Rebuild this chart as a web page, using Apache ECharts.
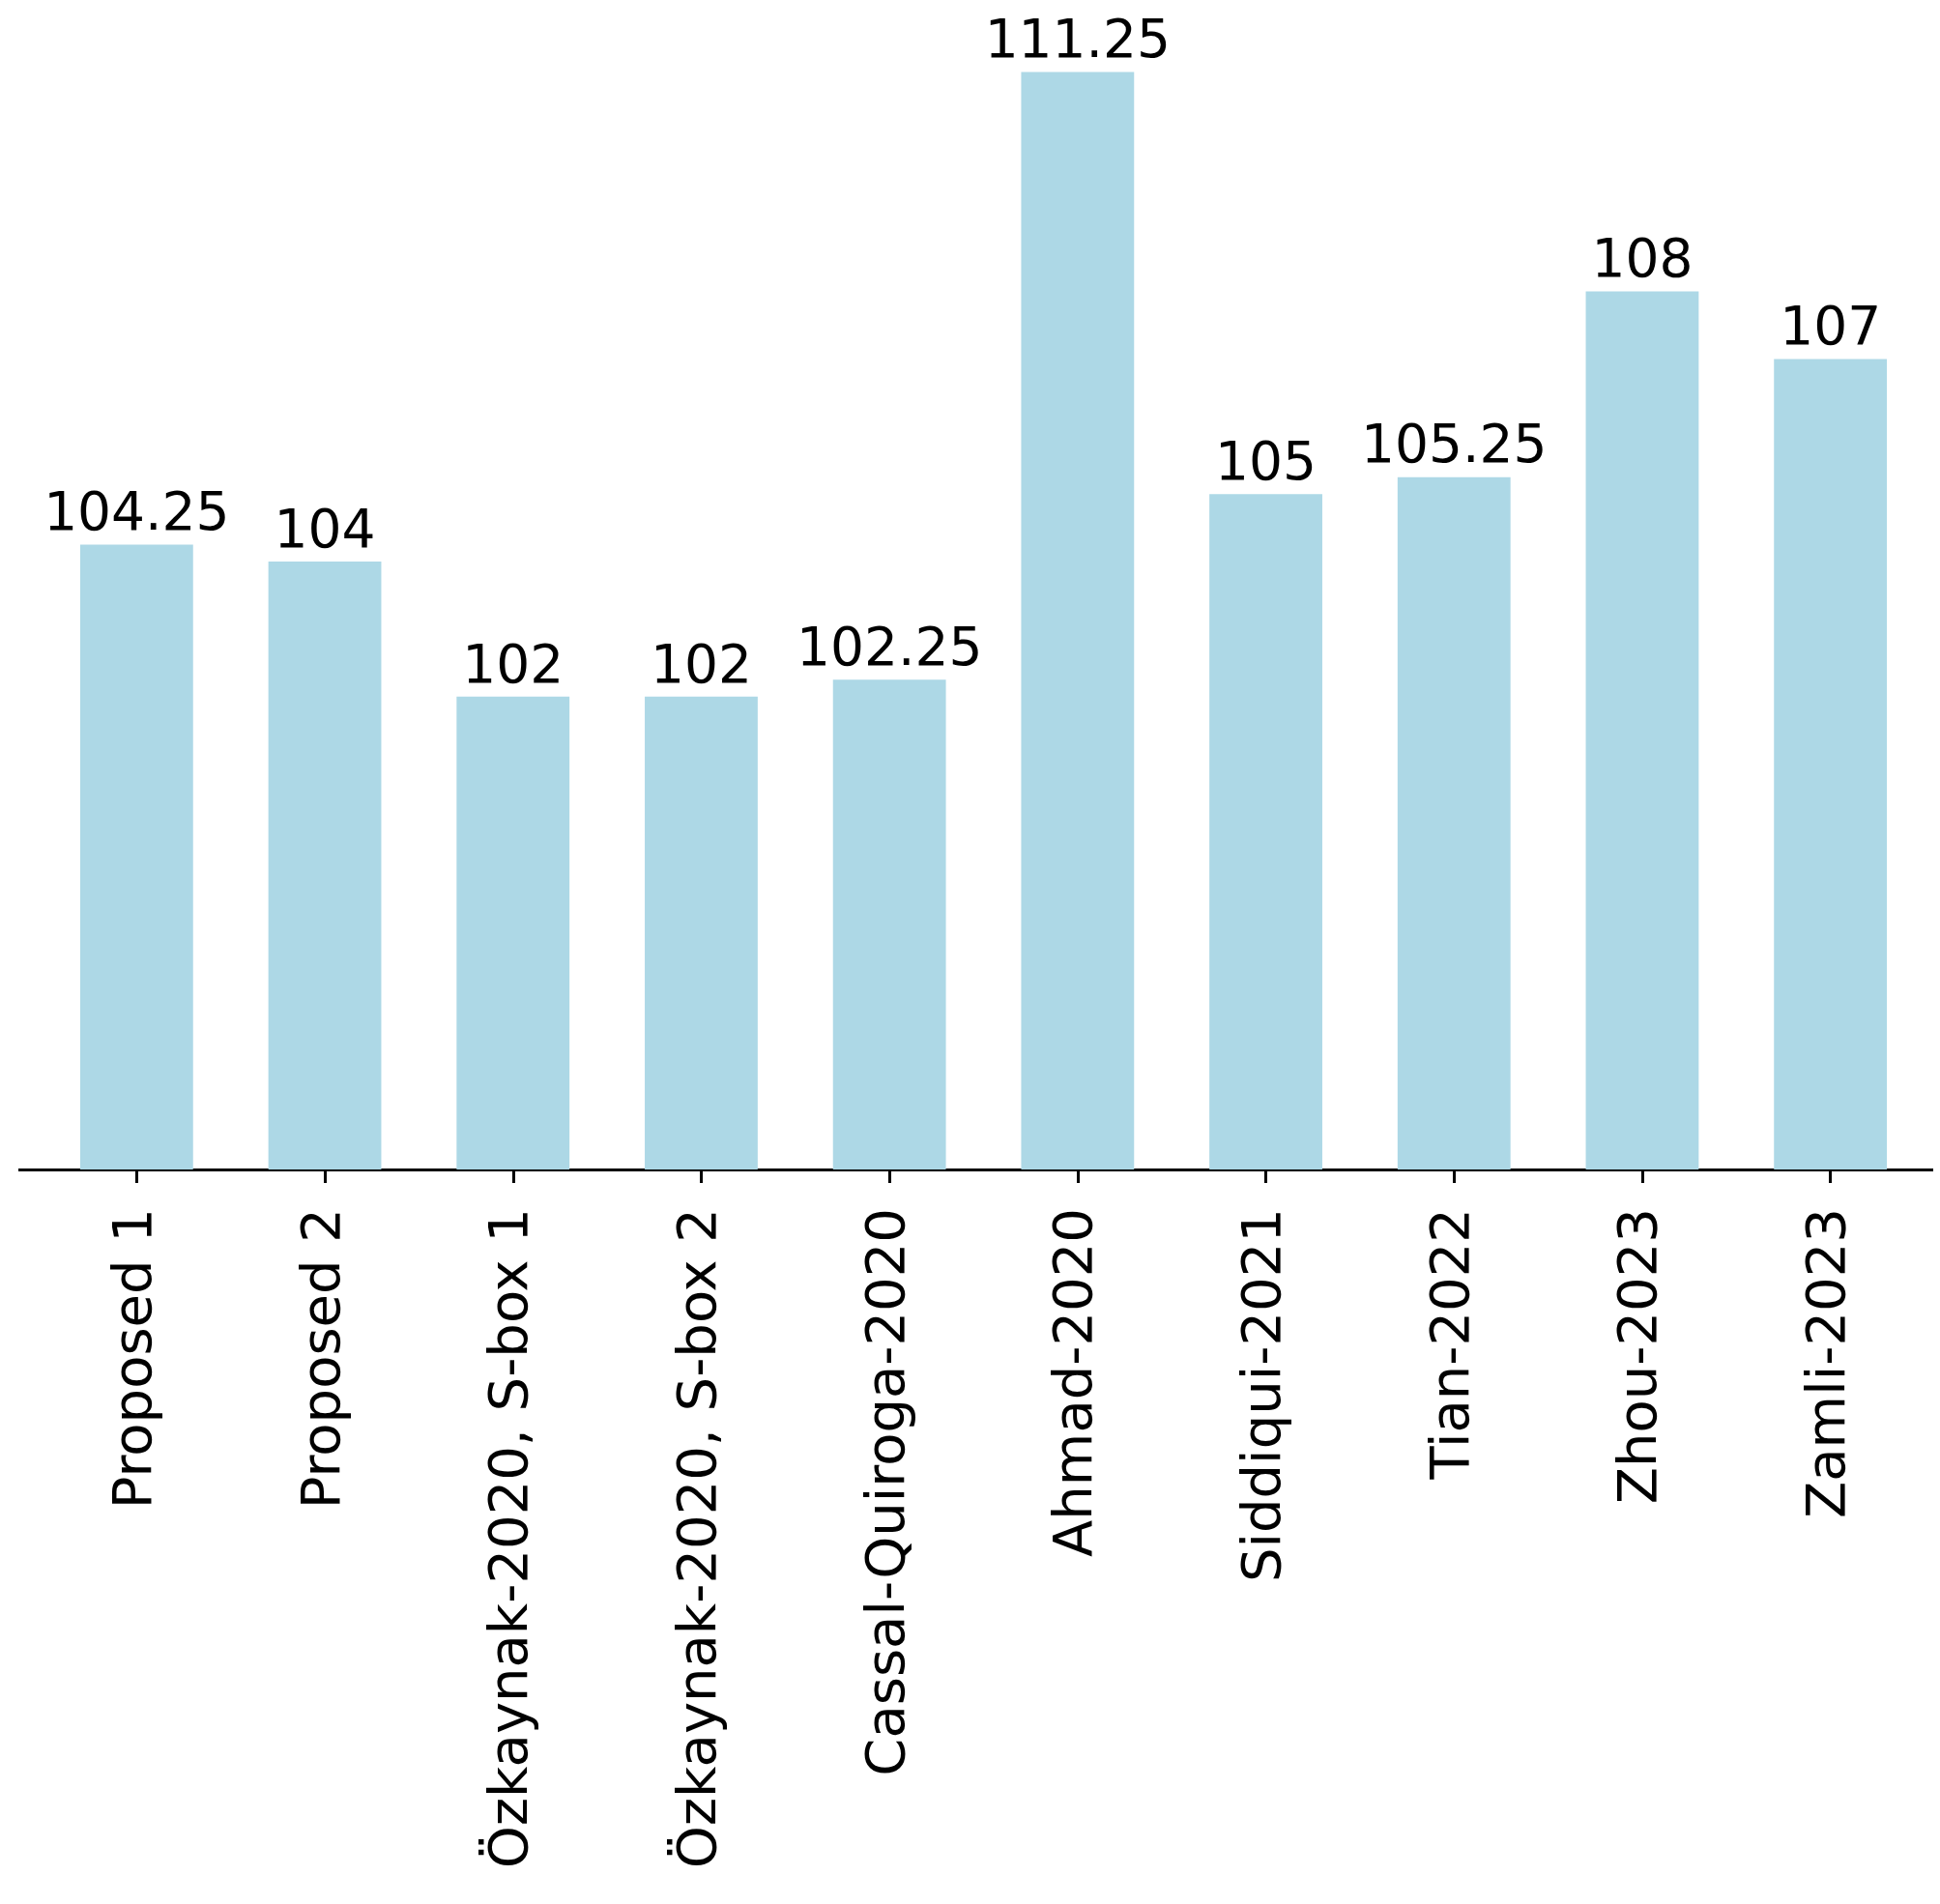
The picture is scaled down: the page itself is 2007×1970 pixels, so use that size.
<!DOCTYPE html>
<html><head><meta charset="utf-8">
<script src="https://cdn.jsdelivr.net/npm/echarts@6/dist/echarts.min.js"></script>
<style>html,body{margin:0;background:#fff}#c{width:2007px;height:1970px}</style>
</head><body><div id="c"></div>
<script>
const categories=["Proposed 1","Proposed 2","Özkaynak-2020, S-box 1","Özkaynak-2020, S-box 2","Cassal-Quiroga-2020","Ahmad-2020","Siddiqui-2021","Tian-2022","Zhou-2023","Zamli-2023"];
const values=[104.25,104,102,102,102.25,111.25,105,105.25,108,107];
const chart=echarts.init(document.getElementById('c'));
chart.setOption({
  animation:false,
  grid:{left:44,right:16,top:22,bottom:760},
  xAxis:{type:'category',data:categories,
    axisLine:{lineStyle:{color:'#000',width:3}},
    axisTick:{show:true,alignWithLabel:true,length:14,lineStyle:{color:'#000',width:3}},
    axisLabel:{rotate:90,margin:40,fontFamily:'DejaVu Sans',fontSize:56,color:'#000',interval:0}},
  yAxis:{type:'value',min:95,max:112,show:false,splitLine:{show:false}},
  series:[{type:'bar',data:values,barWidth:'60%',itemStyle:{color:'#ADD8E6'},
    label:{show:true,position:'top',distance:2,fontFamily:'DejaVu Sans',fontSize:55,color:'#000'}}],
  graphic:[{type:'line',shape:{x1:19,y1:0,x2:2000,y2:0},top:1208,style:{stroke:'#000',lineWidth:3}}]
});
</script></body></html>
